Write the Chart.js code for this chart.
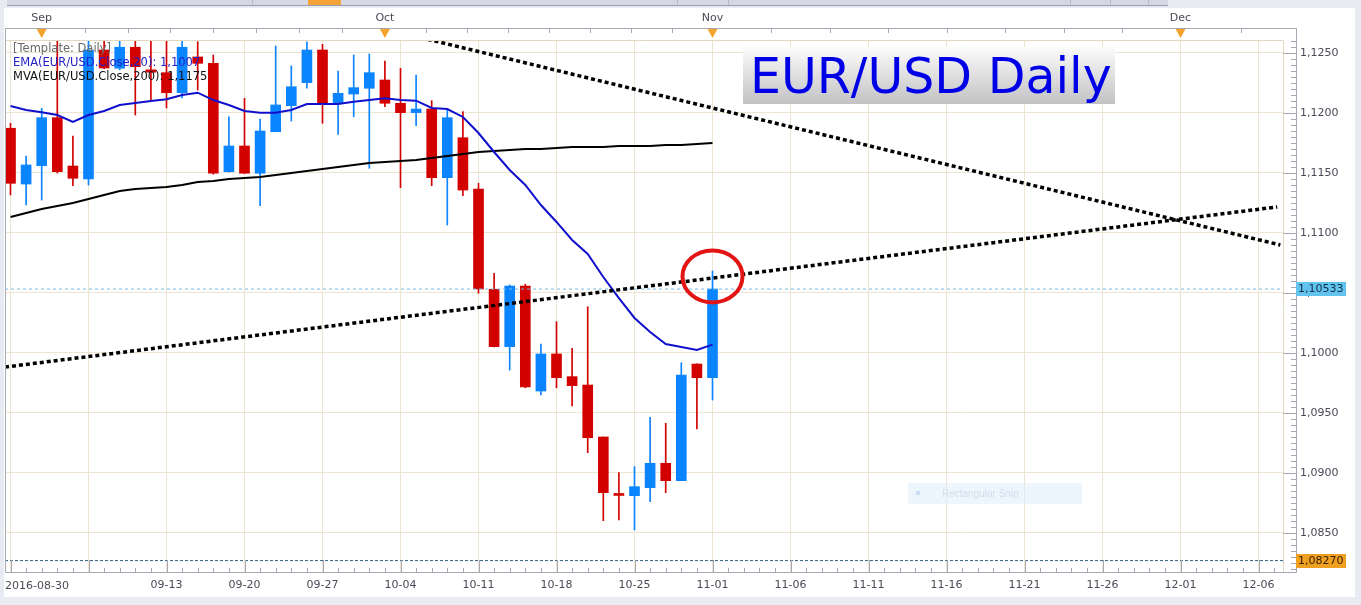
<!DOCTYPE html>
<html>
<head>
<meta charset="utf-8">
<title>EUR/USD Daily</title>
<script src="https://cdn.jsdelivr.net/npm/chart.js@4.4.1/dist/chart.umd.min.js"></script>
<style>
  html, body { margin: 0; padding: 0; background: #e9ebf3; overflow: hidden; }
  #wrap { position: relative; width: 1361px; height: 605px; }
</style>
</head>
<body>
<div id="wrap"><canvas id="fx" width="1361" height="605"></canvas></div>
<script>
// --- slots: trading days up to 11-01, then calendar days ---
const slotDates = [
  '2016-08-30', '08-31', '09-01', '09-02', '09-05', '09-06', '09-07', '09-08', '09-09', '09-12',
  '09-13', '09-14', '09-15', '09-16', '09-19', '09-20', '09-21', '09-22', '09-23', '09-26',
  '09-27', '09-28', '09-29', '09-30', '10-03', '10-04', '10-05', '10-06', '10-07', '10-10',
  '10-11', '10-12', '10-13', '10-14', '10-17', '10-18', '10-19', '10-20', '10-21', '10-24',
  '10-25', '10-26', '10-27', '10-28', '10-31', '11-01', '11-02', '11-03', '11-04', '11-05',
  '11-06', '11-07', '11-08', '11-09', '11-10', '11-11', '11-12', '11-13', '11-14', '11-15',
  '11-16', '11-17', '11-18', '11-19', '11-20', '11-21', '11-22', '11-23', '11-24', '11-25',
  '11-26', '11-27', '11-28', '11-29', '11-30', '12-01', '12-02', '12-03', '12-04', '12-05',
  '12-06', '12-07'
];
const monthNames = ['Sep', 'Oct', 'Nov', 'Dec'];
const monthSlots = [2, 24, 45, 75];

// --- daily candles ---
const opens = [
  1.11873, 1.11408, 1.11561, 1.11961, 1.11558, 1.11450, 1.12525, 1.12373, 1.12548, 1.12360,
  1.12336, 1.12169, 1.12467, 1.12414, 1.11511, 1.11725, 1.11498, 1.11844, 1.12061, 1.12253,
  1.12525, 1.12081, 1.12158, 1.12206, 1.12275, 1.12081, 1.12003, 1.12033, 1.11461, 1.11794,
  1.11367, 1.10531, 1.10053, 1.10558, 1.09683, 1.09992, 1.09803, 1.09733, 1.09300, 1.08825,
  1.08811, 1.08878, 1.09081, 1.08936, 1.09908, 1.09794
];
const highs = [
  1.11914, 1.11642, 1.12039, 1.12680, 1.11808, 1.12680, 1.12680, 1.12680, 1.12680, 1.12680,
  1.12680, 1.12610, 1.12594, 1.12483, 1.11969, 1.12122, 1.11950, 1.12558, 1.12392, 1.12594,
  1.12572, 1.12350, 1.12483, 1.12492, 1.12433, 1.12373, 1.12317, 1.12103, 1.12033, 1.12011,
  1.11414, 1.10664, 1.10567, 1.10573, 1.10075, 1.10261, 1.10039, 1.10386, 1.09300, 1.09003,
  1.09053, 1.09464, 1.09414, 1.09919, 1.09910, 1.10683
];
const lows = [
  1.11317, 1.11233, 1.11275, 1.11500, 1.11394, 1.11400, 1.12370, 1.12360, 1.11983, 1.12108,
  1.12042, 1.12125, 1.12192, 1.11490, 1.11506, 1.11495, 1.11228, 1.11844, 1.11933, 1.12206,
  1.11914, 1.11822, 1.11969, 1.11539, 1.12053, 1.11378, 1.11894, 1.11394, 1.11067, 1.11311,
  1.10498, 1.10050, 1.09858, 1.09710, 1.09650, 1.09710, 1.09558, 1.09169, 1.08603, 1.08608,
  1.08525, 1.08761, 1.08836, 1.08936, 1.09367, 1.09608
];
const closes = [
  1.11414, 1.11567, 1.11961, 1.11511, 1.11456, 1.12525, 1.12375, 1.12548, 1.12386, 1.12340,
  1.12169, 1.12548, 1.12414, 1.11498, 1.11725, 1.11498, 1.11850, 1.12067, 1.12219, 1.12525,
  1.12081, 1.12164, 1.12211, 1.12336, 1.12081, 1.12003, 1.12033, 1.11461, 1.11961, 1.11358,
  1.10533, 1.10053, 1.10558, 1.09717, 1.09992, 1.09794, 1.09728, 1.09294, 1.08836, 1.08813,
  1.08886, 1.09081, 1.08936, 1.09817, 1.09794, 1.10533
];

// --- indicators ---
const ema20 = [
  1.12058, 1.12025, 1.12006, 1.11983, 1.11925, 1.11983, 1.12017, 1.12067, 1.12083, 1.12100,
  1.12114, 1.12150, 1.12169, 1.12108, 1.12067, 1.12017, 1.12003, 1.12003, 1.12025, 1.12075,
  1.12075, 1.12075, 1.12094, 1.12108, 1.12123, 1.12108, 1.12103, 1.12042, 1.12033, 1.11967,
  1.11833, 1.11675, 1.11525, 1.11400, 1.11233, 1.11092, 1.10942, 1.10825, 1.10633, 1.10458,
  1.10292, 1.10175, 1.10075, 1.10050, 1.10025, 1.10070
];
const mva200 = [
  1.11133, 1.11167, 1.11200, 1.11225, 1.11250, 1.11283, 1.11317, 1.11350, 1.11367, 1.11375,
  1.11383, 1.11400, 1.11425, 1.11433, 1.11450, 1.11458, 1.11467, 1.11483, 1.11500, 1.11517,
  1.11533, 1.11550, 1.11567, 1.11583, 1.11592, 1.11600, 1.11608, 1.11625, 1.11642, 1.11658,
  1.11675, 1.11683, 1.11692, 1.11700, 1.11700, 1.11708, 1.11717, 1.11717, 1.11717, 1.11725,
  1.11725, 1.11725, 1.11733, 1.11733, 1.11742, 1.11750
];

// --- drawn objects ---
const lastPrice = 1.10533;
const lowMark = 1.08270;
const trendUpX = [-0.35, 81.2];
const trendUpY = [1.09883, 1.11217];
const trendDownX = [25, 81.4];
const trendDownY = [1.12669, 1.10900];
const circleSlot = 45;
const circlePrice = 1.10638;

const legendLines = ['[Template: Daily]', 'EMA(EUR/USD.Close,20): 1,1007', 'MVA(EUR/USD.Close,200): 1,1175'];
const titleText = 'EUR/USD Daily';

const X_MIN = -0.3526, X_MAX = 81.57;
const Y_MIN = 1.08175, Y_MAX = 1.126083;

const RED = '#d30000', BLUE = '#0a84ff';
const GRID = '#ede4d2', FRAME = '#a8a8b4', TXT = '#4a4a58';
const FONT = '"DejaVu Sans", Verdana, sans-serif';

Chart.defaults.font.family = FONT;

const isUp = i => closes[i] >= opens[i];
const candleColor = c => isUp(c.dataIndex) ? BLUE : RED;
const fmt = v => v.toFixed(4).replace('.', ',');

// top axis: each month split in eight
function topTicks() {
  const t = [];
  for (let m = 0; m < monthSlots.length; m++) {
    const a = monthSlots[m];
    const step = m < monthSlots.length - 1 ? (monthSlots[m + 1] - a) / 8 : 31 / 8;
    for (let k = 0; k < 8; k++) {
      const v = a + k * step;
      if (v <= X_MAX) t.push({ value: v, major: k === 0 });
    }
  }
  return t;
}

const chartFrame = {
  id: 'chartFrame',
  beforeDraw(chart) {
    const c = chart.ctx;
    c.save();
    c.fillStyle = '#e9ebf3'; c.fillRect(0, 0, 1361, 605);
    c.fillStyle = '#ffffff'; c.fillRect(4, 8, 1351, 589);
    c.fillStyle = '#d5d7e4'; c.fillRect(7, 0, 1161, 6);
    c.fillStyle = '#9a9db3'; c.fillRect(7, 5, 1161, 1);
    c.fillStyle = '#b9bccd'; [252, 677, 728, 1070, 1110, 1148].forEach(x => c.fillRect(x, 0, 1, 5));
    c.fillStyle = '#f4a236'; c.fillRect(308, 0, 33, 5);
    c.restore();
  },
  afterDraw(chart) {
    const c = chart.ctx;
    const xs = chart.scales.x, ys = chart.scales.y, xt = chart.scales.xTop;
    const a = chart.chartArea;
    c.save();

    // plot border + outer frame
    c.lineWidth = 1;
    c.strokeStyle = '#e2d8c0';
    c.beginPath();
    c.moveTo(a.left, a.top + 0.5); c.lineTo(a.right + 0.5, a.top + 0.5); c.lineTo(a.right + 0.5, a.bottom);
    c.stroke();
    c.strokeStyle = FRAME;
    c.beginPath();
    c.moveTo(5, 28.5); c.lineTo(1296.5, 28.5); c.lineTo(1296.5, a.bottom + 0.5); c.lineTo(5.5, a.bottom + 0.5); c.lineTo(5.5, 28.5);
    c.stroke();

    // bottom axis ticks
    c.beginPath();
    for (let i = 0; i <= Math.floor(X_MAX); i++) {
      const x = Math.round(xs.getPixelForValue(i)) + 0.5;
      c.moveTo(x, a.bottom); c.lineTo(x, a.bottom - (i % 5 === 0 ? 12 : 4));
    }
    // right axis ticks
    for (let k = Math.ceil(Y_MIN / 0.0005); k <= Math.floor(Y_MAX / 0.0005); k++) {
      const y = Math.round(ys.getPixelForValue(k * 0.0005)) + 0.5;
      c.moveTo(k % 10 === 0 ? a.right : 1291, y); c.lineTo(1297, y);
    }
    // top axis ticks
    xt.ticks.forEach(t => {
      const x = Math.round(xt.getPixelForValue(t.value)) + 0.5;
      c.moveTo(x, 28); c.lineTo(x, 33);
    });
    c.stroke();

    c.fillStyle = '#f5a32a';
    monthSlots.forEach(s => {
      const x = xt.getPixelForValue(s);
      c.beginPath(); c.moveTo(x - 5, 29); c.lineTo(x + 5, 29); c.lineTo(x, 38); c.closePath(); c.fill();
    });

    // first date label, left aligned
    c.fillStyle = TXT;
    c.font = '11px ' + FONT;
    c.textBaseline = 'middle';
    c.textAlign = 'left';
    c.fillText(slotDates[0], 5, 586);

    // price tags
    [[lastPrice, '#62c3ef', '#12304a'], [lowMark, '#f0a020', '#3a2200']].forEach(([v, bg, fg]) => {
      const y = Math.round(ys.getPixelForValue(v));
      c.fillStyle = bg; c.fillRect(1296, y - 7, 50, 14);
      c.fillStyle = fg; c.fillText(v.toFixed(5).replace('.', ','), 1298, y + 0.5);
    });

    // indicator legend
    c.font = '11.5px ' + FONT;
    c.textBaseline = 'alphabetic';
    ['#6a6a6a', '#2222c8', '#111111'].forEach((col, i) => {
      c.fillStyle = col; c.fillText(legendLines[i], 13, 52 + i * 13.8);
    });

    // title box
    const g = c.createLinearGradient(0, 47, 0, 104);
    g.addColorStop(0, '#fcfcfc'); g.addColorStop(1, '#c2c2c4');
    c.fillStyle = g; c.fillRect(743, 47, 372, 57);
    c.font = '49px ' + FONT;
    c.fillStyle = '#0000e6';
    c.fillText(titleText, 750, 93);

    // red circle around last candle
    c.strokeStyle = '#e31414';
    c.lineWidth = 4;
    c.beginPath();
    c.ellipse(xs.getPixelForValue(circleSlot), ys.getPixelForValue(circlePrice), 30, 26, 0, 0, Math.PI * 2);
    c.stroke();

    // faint snip overlay
    c.fillStyle = 'rgba(222,236,252,0.55)'; c.fillRect(908, 483, 174, 21);
    c.fillStyle = 'rgba(180,205,235,0.6)'; c.fillRect(916, 491, 4, 4);
    c.fillStyle = '#d3deec';
    c.font = '10px "Liberation Sans", sans-serif';
    c.textBaseline = 'middle';
    c.fillText('Rectangular Snip', 942, 494);

    c.restore();
  }
};

const lineSet = (xsArr, ysArr, extra) => Object.assign({
  type: 'line',
  data: xsArr.map((x, i) => ({ x: x, y: ysArr[i] })),
  pointRadius: 0,
  tension: 0,
  fill: false
}, extra);

const slots = opens.map((o, i) => i);

new Chart(document.getElementById('fx'), {
  type: 'bar',
  data: {
    datasets: [
      lineSet(trendUpX, trendUpY, { borderColor: '#000', borderWidth: 3.5, borderDash: [4, 3], order: 0 }),
      lineSet(trendDownX, trendDownY, { borderColor: '#000', borderWidth: 3.5, borderDash: [4, 3], order: 0 }),
      lineSet(slots, ema20, { borderColor: '#1010cc', borderWidth: 2, order: 1 }),
      lineSet(slots, mva200, { borderColor: '#000', borderWidth: 2, order: 1 }),
      lineSet([X_MIN, X_MAX], [lastPrice, lastPrice], { borderColor: '#74c0e2', borderWidth: 1, borderDash: [3, 3], order: 2 }),
      lineSet([X_MIN, X_MAX], [lowMark, lowMark], { borderColor: '#2f5f80', borderWidth: 1, borderDash: [3, 2], order: 2 }),
      {
        type: 'bar',
        data: opens.map((o, i) => ({ x: i, y: [Math.min(o, closes[i]), Math.max(o, closes[i])] })),
        backgroundColor: candleColor,
        barThickness: 10,
        minBarLength: 2,
        grouped: false,
        order: 3
      },
      {
        type: 'bar',
        data: opens.map((o, i) => ({ x: i, y: [lows[i], highs[i]] })),
        backgroundColor: candleColor,
        barThickness: 1,
        grouped: false,
        order: 4
      }
    ]
  },
  options: {
    responsive: false,
    animation: false,
    events: [],
    layout: { padding: { left: 5, top: 8, right: 0, bottom: 0 } },
    plugins: { legend: { display: false }, tooltip: { enabled: false } },
    scales: {
      x: {
        type: 'linear', axis: 'x', position: 'bottom',
        min: X_MIN, max: X_MAX, offset: false,
        afterFit: s => { s.height = 33; },
        grid: {
          offset: false, drawTicks: false,
          color: c => (c.tick && c.tick.value % 5 === 0) ? GRID : 'rgba(0,0,0,0)'
        },
        border: { display: false },
        ticks: {
          stepSize: 1, autoSkip: false, maxRotation: 0, includeBounds: false,
          padding: 7, color: TXT, font: { size: 11 },
          callback: v => (Number.isInteger(v) && v % 5 === 0 && v >= 10) ? slotDates[v] : ''
        }
      },
      xTop: {
        type: 'linear', axis: 'x', position: 'top',
        min: X_MIN, max: X_MAX, offset: false,
        afterBuildTicks: s => { s.ticks = topTicks(); },
        afterFit: s => { s.height = 32; },
        grid: { drawOnChartArea: false, drawTicks: false },
        border: { display: false },
        ticks: {
          autoSkip: false, maxRotation: 0, padding: 15, color: TXT, font: { size: 11 },
          callback: v => {
            const m = monthSlots.indexOf(v);
            return m >= 0 ? monthNames[m] : '';
          }
        }
      },
      y: {
        type: 'linear', position: 'right',
        min: Y_MIN, max: Y_MAX,
        afterFit: s => { s.width = 78; },
        grid: { drawTicks: false, color: GRID },
        border: { display: false },
        ticks: {
          stepSize: 0.005, includeBounds: false, padding: 17,
          color: TXT, font: { size: 11 },
          callback: v => fmt(v)
        }
      }
    }
  },
  plugins: [chartFrame]
});
</script>
</body>
</html>
